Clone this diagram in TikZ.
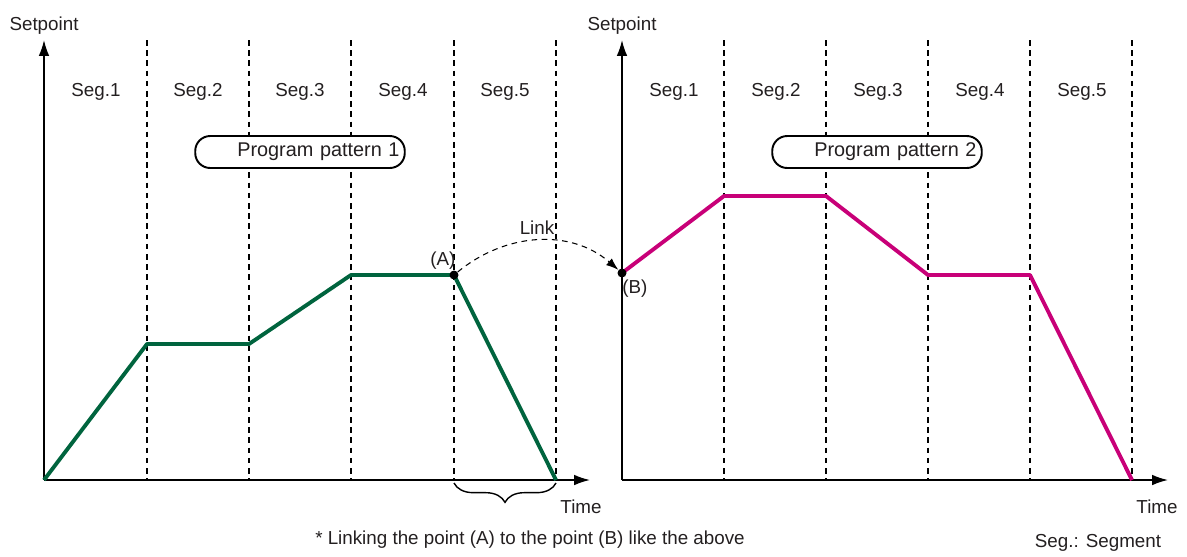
\documentclass[tikz,border=0pt]{standalone}
\usepackage{fontspec}
\setmainfont{Liberation Sans}
\usepackage{xcolor}
\usetikzlibrary{shapes, arrows.meta, positioning, calc, decorations.pathreplacing}

\definecolor{patgreen}{RGB}{0,100,62}
\definecolor{patpink}{RGB}{200,0,120}
\definecolor{txtgray}{RGB}{35,31,32}

\tikzset{
  axis/.style={line width=0.9pt,-{Latex[length=9pt,width=6pt]}},
  segline/.style={line width=0.6pt,dash pattern=on 3.2pt off 2.6pt},
  lbl/.style={font=\fontsize{10.7}{12.5}\selectfont,text=txtgray,inner sep=1pt},
  patbox/.style={draw,fill=white,line width=1.1pt,rounded corners=15*0.02cm,minimum height=32*0.02cm,
    text width=199*0.02cm,align=right,inner xsep=3pt,inner ysep=2pt,
    font=\fontsize{11.3}{13}\selectfont},
  curveA/.style={line width=2.2pt,patgreen,line join=round},
  curveB/.style={line width=2.2pt,patpink,line join=round},
  dot/.style={circle,fill=black,inner sep=0pt,minimum size=9*0.02cm}
}

\begin{document}
\begin{tikzpicture}[x=0.02cm,y=-0.02cm]
  \useasboundingbox (0,0) rectangle (1187,556);

  % Origins of the two charts
  \coordinate (O1) at (44,480);
  \coordinate (O2) at (622,480);

  % Segment borders
  \foreach \x in {147,249,351,454,556,724,826,928,1030,1132}
    \draw[segline] (\x,40) -- (\x,480);

  % Axes
  \draw[axis] (O1) -- (44,40) node[lbl,above=2pt] (sp1) {Setpoint};
  \draw[axis] (O1) -- (590,480);
  \draw[axis] (O2) -- (622,40) node[lbl,above=2pt] (sp2) {Setpoint};
  \draw[axis] (O2) -- (1168,480);
  \node[lbl] (time1) at (581,507) {Time};
  \node[lbl] (time2) at (1157,507) {Time};

  % Segment labels
  \node[lbl] at (96,92) {Seg.1};
  \node[lbl] at (198,92) {Seg.2};
  \node[lbl] at (300,92) {Seg.3};
  \node[lbl] at (403,92) {Seg.4};
  \node[lbl] at (505,92) {Seg.5};
  \node[lbl] at (674,92) {Seg.1};
  \node[lbl] at (776,92) {Seg.2};
  \node[lbl] at (878,92) {Seg.3};
  \node[lbl] at (980,92) {Seg.4};
  \node[lbl] at (1082,92) {Seg.5};

  % Pattern boxes
  \node[lbl,patbox] (pat1) at (300,152) {Program pattern 1};
  \node[lbl,patbox] (pat2) at (877,152) {Program pattern 2};

  % Program pattern 1
  \coordinate (A) at (454,275);
  \draw[curveA] (O1) -- (147,344) -- (249,344) -- (351,275) -- (A) -- (556,480);

  % Program pattern 2
  \coordinate (B) at (622,273);
  \draw[curveB] (B) -- (724,196) -- (826,196) -- (928,275) -- (1030,275) -- (1132,480);

  % Link
  \node[dot] (dotA) at (A) {};
  \node[dot] (dotB) at (B) {};
  \node[lbl,above left=0pt and -4pt of dotA] (labA) {(A)};
  \node[lbl,below right=1pt and -3pt of dotB] (labB) {(B)};
  \draw[segline,-{Latex[length=7pt,width=5pt]}] (dotA) .. controls (505,233) and (570,228) .. (dotB);
  \node[lbl] (link) at (537,228) {Link};

  % Brace under Seg.5
  \draw[line width=0.8pt,decorate,decoration={brace,mirror,amplitude=11pt}] (454,483) -- (556,483);

  % Notes
  \node[lbl] (note) at (530,540) {* Linking the point (A) to the point (B) like the above};
  \node[lbl] (legend) at (1098,543) {Seg.: Segment};
\end{tikzpicture}
\end{document}
